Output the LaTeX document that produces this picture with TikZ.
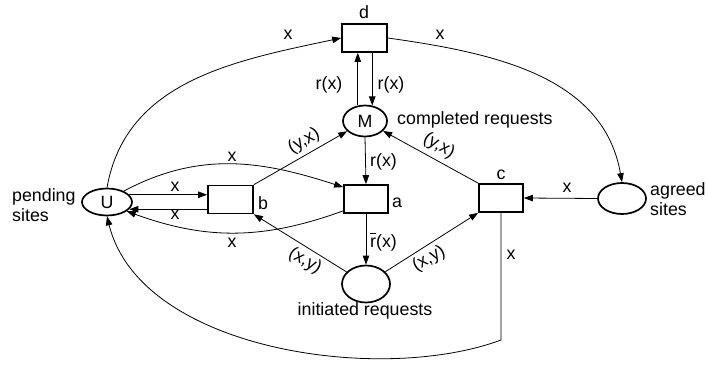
\documentclass[tikz,border=0pt]{standalone}
\usepackage{fontspec}
\setmainfont{Liberation Sans}
\usetikzlibrary{arrows.meta,shapes.geometric}
\begin{document}
\begin{tikzpicture}[x=1pt,y=1pt,
  every node/.style={font=\fontsize{17.8}{20}\selectfont},
  place/.style={draw,ellipse,line width=1.7pt,inner sep=0pt,minimum width=48pt,minimum height=31pt},
  trans/.style={draw,rectangle,line width=1.7pt,inner sep=0pt,minimum width=45pt,minimum height=28pt},
  arc/.style={line width=0.8pt,-{Triangle[length=9pt,width=6.5pt]}},
  lbl/.style={inner sep=1pt}]
\useasboundingbox (0,0) rectangle (706,367);
% places
\node[place,minimum width=50pt,minimum height=27pt] (U) at (107,165) {U};
\node[place,minimum width=44pt] (M) at (365,246) {M};
\node[place,minimum height=37pt] (I) at (366,83) {};
\node[place] (G) at (622,168.5) {};
% transitions
\node[trans] (b) at (230.5,167.5) {};
\node[trans,minimum width=44pt] (a) at (366,168) {};
\node[trans] (d) at (364.5,329) {};
\node[trans,minimum width=44pt] (c) at (501,169) {};
% node labels
\node[lbl] (lbd) at (364,355) {d};
\node[lbl] (lbc) at (501,192) {c};
\node[lbl] (lbb) at (263,164) {b};
\node[lbl] (lba) at (397,164) {a};
\node[lbl,anchor=west] (lM) at (396,247) {completed requests};
\node[lbl] (lI) at (365,56) {initiated requests};
\node[lbl,anchor=west,align=left] (lU) at (11,162) {pending\\sites};
\node[lbl,anchor=west,align=left] (lG) at (649,168) {agreed\\sites};
% connectors
\draw[arc] (U.north) to[out=80,in=192] (d.west);
\draw[arc] (d.east) to[out=-8,in=100] (G.north);
\draw[arc] (U.18) -- (U.18 -| b.west);
\draw[arc] (b.west |- U.-18) -- (U.-18);
\draw[arc] (U.33) to[out=28,in=162] ([yshift=-3pt]a.north west);
\draw[arc] ([yshift=3pt]a.south west) to[out=200,in=-20] (U.-25);
\draw[arc] (M.115) -- (M.115 |- d.south);
\draw[arc] (M.65 |- d.south) -- (M.65);
\draw[arc] (M.south) -- (a.north);
\draw[arc] (a.south) -- (I.north);
\draw[arc] (b.north east) -- (M);
\draw[arc] (c.north west) -- (M);
\draw[arc] (I) -- (b.south east);
\draw[arc] (I) -- (c.south west);
\draw[arc] (G.west) -- (c.east);
\coordinate (cc) at (c.south |- 0,27);
\draw[arc] (c.south) -- (cc) .. controls (380,-18) and (140,17) .. (U.south);
% arc labels
\node[lbl] (x1) at (288,332) {x};
\node[lbl] (x2) at (440,332) {x};
\node[lbl] (r1) at (329,282) {r(x)};
\node[lbl] (r2) at (391,282) {r(x)};
\node[lbl,anchor=west] (r3) at (369,205) {r(x)};
\node[lbl,anchor=west] (r4) at (369,125) {\rlap{\raisebox{0.76em}{\rule{0.33em}{1pt}}}r(x)};
\node[lbl,rotate=30] (yx1) at (304,226) {(y,x)};
\node[lbl,rotate=-30] (yx2) at (439,221) {(y,x)};
\node[lbl,rotate=-30] (xy1) at (305,106) {(x,y)};
\node[lbl,rotate=30] (xy2) at (429,108) {(x,y)};
\node[lbl] (x3) at (232,210) {x};
\node[lbl] (x4) at (175,180) {x};
\node[lbl] (x5) at (175,152) {x};
\node[lbl] (x6) at (232,124) {x};
\node[lbl] (x7) at (567,179) {x};
\node[lbl] (x8) at (511,112) {x};
\end{tikzpicture}
\end{document}
